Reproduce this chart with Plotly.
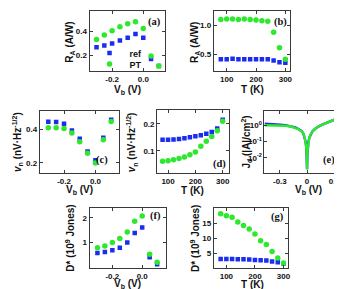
import plotly.graph_objects as go

W, H = 342, 289

# ---------------- data ----------------
vb = [-0.3, -0.25, -0.2, -0.15, -0.1, -0.05, 0.0, 0.05, 0.1]
temp = [80, 100, 120, 140, 160, 180, 200, 220, 240, 260, 280, 300]

ra_ref_vb = [0.267, 0.283, 0.300, 0.325, 0.348, 0.378, 0.348, 0.169, 0.111]
ra_pt_vb = [0.333, 0.369, 0.406, 0.439, 0.464, 0.481, 0.425, 0.194, 0.111]

ra_ref_t = [0.41, 0.41, 0.42, 0.41, 0.41, 0.41, 0.41, 0.41, 0.41, 0.39, 0.36, 0.35]
ra_pt_t = [1.10, 1.11, 1.11, 1.10, 1.11, 1.10, 1.09, 1.08, 1.07, 0.88, 0.61, 0.41]

vn_ref_vb = [0.446, 0.444, 0.434, 0.394, 0.344, 0.268, 0.216, 0.350, 0.458]
vn_pt_vb = [0.410, 0.410, 0.406, 0.378, 0.326, 0.258, 0.200, 0.338, 0.448]

vn_ref_t = [0.141, 0.141, 0.142, 0.144, 0.147, 0.150, 0.154, 0.158, 0.163, 0.170, 0.183, 0.216]
vn_pt_t = [0.061, 0.063, 0.066, 0.071, 0.077, 0.085, 0.095, 0.117, 0.135, 0.153, 0.175, 0.210]

jd_v = [-0.47, -0.42, -0.36, -0.30, -0.24, -0.18, -0.13, -0.09, -0.06, -0.04, -0.025,
        -0.015, -0.008, -0.003, 0.0, 0.003, 0.008, 0.015, 0.025, 0.04, 0.06, 0.09,
        0.13, 0.18, 0.24, 0.30, 0.36, 0.43]
jd_ref = [1.25, 1.22, 1.16, 1.08, 0.99, 0.88, 0.74, 0.57, 0.43, 0.30, 0.17,
          0.09, 0.04, 0.013, 0.002, 0.013, 0.04, 0.09, 0.17, 0.28, 0.42, 0.60,
          0.85, 1.15, 1.60, 2.10, 2.80, 4.20]
jd_pt = [1.00, 1.00, 0.99, 0.97, 0.92, 0.83, 0.70, 0.55, 0.42, 0.30, 0.17,
         0.09, 0.04, 0.013, 0.002, 0.013, 0.04, 0.09, 0.17, 0.28, 0.42, 0.60,
         0.85, 1.15, 1.60, 2.10, 2.80, 4.20]

d_ref_vb = [0.56, 0.60, 0.67, 0.78, 0.99, 1.38, 1.60, 0.39, 0.10]
d_pt_vb = [0.78, 0.85, 0.99, 1.15, 1.42, 1.86, 2.07, 0.51, 0.18]

d_ref_t = [3.0, 3.0, 3.0, 2.9, 2.9, 2.8, 2.7, 2.6, 2.5, 2.2, 1.9, 1.5]
d_pt_t = [18.1, 17.4, 16.9, 15.3, 14.2, 13.0, 11.3, 9.1, 7.8, 5.5, 3.3, 1.7]

series_names = ["ref", "PT"]

# ---------------- style ----------------
BLUE = "#1a2cf0"
GREEN = "#2ee82e"
AX = "#3a3a3a"
SANS = "Arial, Liberation Sans, sans-serif"
SERIF = "Times New Roman, Liberation Serif, serif"


def dx(a, b):
    return [a / W, b / W]


def dy(top, bottom):
    return [1 - bottom / H, 1 - top / H]


panels = {
    1: dict(xd=(82, 158), yd=(3, 63), xr=[-0.345, 0.14], yr=[0.07, 0.57],
            xt=([-0.2, 0.0], ["-0.2", "0.0"]), yt=([0.2, 0.4], ["0.2", "0.4"])),
    2: dict(xd=(207, 284), yd=(3, 63), xr=[56, 317], yr=[0.207, 1.247],
            xt=([100, 200, 300], ["100", "200", "300"]), yt=([0.5, 1.0], ["0.5", "1.0"])),
    3: dict(xd=(32, 112), yd=(103, 165), xr=[-0.354, 0.152], yr=[0.14, 0.51],
            xt=([-0.2, 0.0], ["-0.2", "0.0"]), yt=([0.2, 0.4], ["0.2", "0.4"])),
    4: dict(xd=(150, 222), yd=(102, 165), xr=[60, 322], yr=[0.017, 0.252],
            xt=([100, 200, 300], ["100", "200", "300"]), yt=([0.1, 0.2], ["0.1", "0.2"])),
    5: dict(xd=(258, 340), yd=(103, 165), xr=[-0.47, 0.43], yr=[-2.93, 0.87],
            xt=([-0.3, 0.0, 0.3], ["-0.3", "0", "0.3"]),
            yt=([0.01, 0.1, 1], ["10<sup>-2</sup>", "10<sup>-1</sup>", "10<sup>0</sup>"]),
            log=True),
    6: dict(xd=(82, 159), yd=(200, 260), xr=[-0.353, 0.16], yr=[-0.05, 2.4],
            xt=([-0.2, 0.0], ["-0.2", "0.0"]), yt=([1, 2], ["1", "2"])),
    7: dict(xd=(207, 282), yd=(200, 260), xr=[56, 317], yr=[0, 20],
            xt=([100, 200, 300], ["100", "200", "300"]), yt=([5, 10, 15], ["5", "10", "15"])),
}

fig = go.Figure()


def add_pts(i, x, y_ref, y_pt, legend=False):
    fig.add_trace(go.Scatter(
        x=x, y=y_ref, mode="markers", name=series_names[0],
        marker=dict(symbol="square", size=4.5, color=BLUE),
        xaxis=f"x{i}", yaxis=f"y{i}", showlegend=legend, legend="legend"))
    fig.add_trace(go.Scatter(
        x=x, y=y_pt, mode="markers", name=series_names[1],
        marker=dict(symbol="circle", size=5.5, color=GREEN),
        xaxis=f"x{i}", yaxis=f"y{i}", showlegend=legend, legend="legend2"))


add_pts(1, vb, ra_ref_vb, ra_pt_vb, legend=True)
add_pts(2, temp, ra_ref_t, ra_pt_t)
add_pts(3, vb, vn_ref_vb, vn_pt_vb)
add_pts(4, temp, vn_ref_t, vn_pt_t)
fig.add_trace(go.Scatter(x=jd_v, y=jd_ref, mode="lines", line=dict(color=BLUE, width=2.4),
                         xaxis="x5", yaxis="y5", showlegend=False))
fig.add_trace(go.Scatter(x=jd_v, y=jd_pt, mode="lines", line=dict(color=GREEN, width=2.4),
                         xaxis="x5", yaxis="y5", showlegend=False))
add_pts(6, vb, d_ref_vb, d_pt_vb)
add_pts(7, temp, d_ref_t, d_pt_t)

legfont = dict(family=SANS, size=9, color="#111", weight="bold")
layout = dict(
    width=W, height=H, margin=dict(l=0, r=0, t=0, b=0),
    paper_bgcolor="white", plot_bgcolor="white",
    font=dict(family=SANS, size=9, color="#111"),
    legend=dict(x=82 / W, y=1 - 45 / H, xanchor="left", yanchor="middle",
                bgcolor="rgba(0,0,0,0)", borderwidth=0, font=legfont,
                itemwidth=30, tracegroupgap=0),
    legend2=dict(x=82 / W, y=1 - 56 / H, xanchor="left", yanchor="middle",
                 bgcolor="rgba(0,0,0,0)", borderwidth=0, font=legfont,
                 itemwidth=30, tracegroupgap=0),
)

tickfont = dict(family=SANS, size=8, color="#111", weight="bold")
for i, p in panels.items():
    common = dict(showline=True, linecolor=AX, linewidth=1, mirror="ticks",
                  ticks="inside", ticklen=3, tickcolor=AX, showgrid=False,
                  zeroline=False, tickfont=tickfont, ticklabelstandoff=0)
    layout[f"xaxis{i}"] = dict(domain=dx(*p["xd"]), range=p["xr"], anchor=f"y{i}",
                               tickvals=p["xt"][0], ticktext=p["xt"][1], **common)
    ya = dict(domain=dy(*p["yd"]), anchor=f"x{i}",
              tickvals=p["yt"][0], ticktext=p["yt"][1], **common)
    if p.get("log"):
        ya["type"] = "log"
    ya["range"] = p["yr"]
    layout[f"yaxis{i}"] = ya

fig.update_layout(**layout)

# ---------------- titles ----------------
tfont = dict(family=SANS, size=10, color="#111", weight="bold")


def ann(text, x, y, angle=0, font=tfont):
    fig.add_annotation(text=text, x=x / W, y=1 - y / H, xref="paper", yref="paper",
                       showarrow=False, textangle=angle, font=font,
                       xanchor="center", yanchor="middle")


vb_t = "V<sub>b</sub> (V)"
t_t = "T (K)"
ra_t = "R<sub>A</sub> (A/W)"
vn_t = "<i>v</i><sub>n</sub> (nV·Hz<sup>-1/2</sup>)"
jd_t = "J<sub>d</sub> (|A|/cm<sup>2</sup>)"
d_t = "D* (10<sup>9</sup> Jones)"

ann(ra_t, 62, 34, -90)
ann(vb_t, 120, 82)
ann(ra_t, 188, 34, -90)
ann(t_t, 246, 81)
ann(vn_t, 9, 134, -90)
ann(vb_t, 72, 182)
ann(vn_t, 124, 134, -90)
ann(t_t, 186, 182)
ann(jd_t, 239, 134, -90)
ann(vb_t, 302, 182)
ann(d_t, 62, 230, -90)
ann(vb_t, 120, 276)
ann(d_t, 188, 230, -90)
ann(t_t, 246, 276)

pfont = dict(family=SERIF, size=10.5, color="#111", weight="bold")
ann("(a)", 147, 14, font=pfont)
ann("(b)", 274, 14, font=pfont)
ann("(c)", 95, 152, font=pfont)
ann("(d)", 213, 156, font=pfont)
ann("(e)", 323, 152, font=pfont)
ann("(f)", 148, 208, font=pfont)
ann("(g)", 271, 209, font=pfont)

fig.write_html("out.html")
